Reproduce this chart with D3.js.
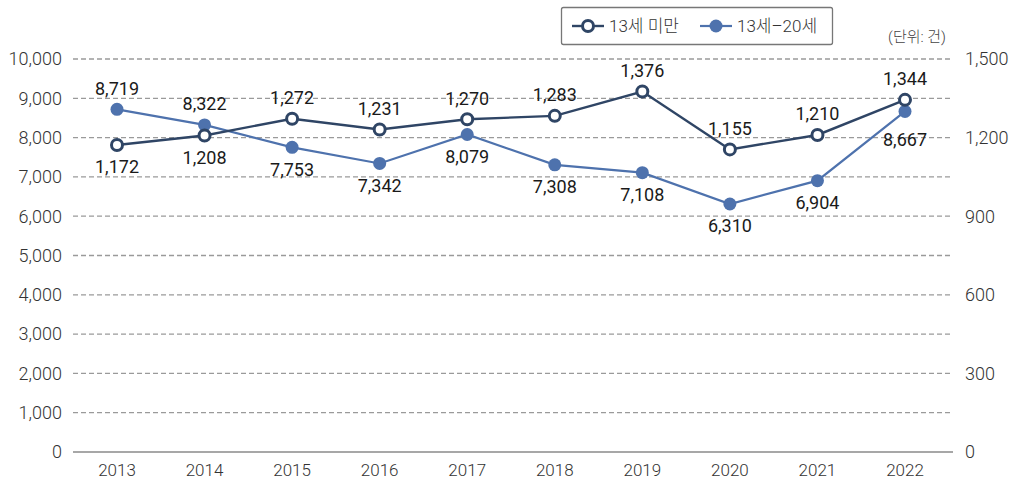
<!DOCTYPE html>
<html>
<head>
<meta charset="utf-8">
<script src="https://cdn.jsdelivr.net/npm/d3@7"></script>
<style>
  body { margin: 0; background: #fff; }
  text { font-family: Roboto, "Noto Sans CJK KR", sans-serif; }
</style>
</head>
<body>
<svg id="chart" width="1015" height="483"></svg>
<script>
// chart data
var years = ["2013", "2014", "2015", "2016", "2017", "2018", "2019", "2020", "2021", "2022"];
var under13 = [1172, 1208, 1272, 1231, 1270, 1283, 1376, 1155, 1210, 1344];
var age13to20 = [8719, 8322, 7753, 7342, 8079, 7308, 7108, 6310, 6904, 8667];
var leftTicks = [0, 1000, 2000, 3000, 4000, 5000, 6000, 7000, 8000, 9000, 10000];
var rightTicks = [0, 300, 600, 900, 1200, 1500];
var seriesNames = ["13세 미만", "13세–20세"];

var dark = "#2f4565", blue = "#4e72ad";
var svg = d3.select("#chart");
var margin = {left: 73, right: 62, top: 59, bottom: 31};
var width = 1015, height = 483;

var x = d3.scalePoint().domain(years)
    .range([117, 905]);
var yL = d3.scaleLinear().domain([0, 10000]).range([height - margin.bottom, margin.top]);
var yR = d3.scaleLinear().domain([0, 1500]).range([height - margin.bottom, margin.top]);
var fmt = d3.format(",");

// gridlines
svg.append("g").selectAll("line")
    .data(leftTicks.filter(function(d) { return d > 0; }))
    .join("line")
    .attr("x1", margin.left).attr("x2", width - margin.right)
    .attr("y1", function(d) { return yL(d); }).attr("y2", function(d) { return yL(d); })
    .attr("stroke", "#9a9a9a").attr("stroke-width", 1.3)
    .attr("stroke-dasharray", "5,3");

svg.append("line")
    .attr("x1", margin.left).attr("x2", width - margin.right)
    .attr("y1", yL(0)).attr("y2", yL(0))
    .attr("stroke", "#8a8a8a").attr("stroke-width", 1.5);

// left axis labels
svg.append("g").selectAll("text").data(leftTicks).join("text")
    .attr("x", 62).attr("y", function(d) { return yL(d); })
    .attr("dy", "0.35em").attr("text-anchor", "end")
    .attr("font-size", 18).attr("font-weight", 300).attr("fill", "#333")
    .text(function(d) { return fmt(d); });

// right axis labels
svg.append("g").selectAll("text").data(rightTicks).join("text")
    .attr("x", 965).attr("y", function(d) { return yR(d); })
    .attr("dy", "0.35em").attr("text-anchor", "start")
    .attr("font-size", 18).attr("font-weight", 300).attr("fill", "#333")
    .text(function(d) { return fmt(d); });

// x labels
svg.append("g").selectAll("text").data(years).join("text")
    .attr("x", function(d) { return x(d); }).attr("y", 470)
    .attr("dy", "0.35em").attr("text-anchor", "middle")
    .attr("font-size", 17).attr("font-weight", 300).attr("fill", "#333")
    .text(function(d) { return d; });

// 13세-20세 line (left axis)
var lineL = d3.line().x(function(d, i) { return x(years[i]); }).y(function(d) { return yL(d); });
svg.append("path").datum(age13to20)
    .attr("d", lineL).attr("fill", "none")
    .attr("stroke", blue).attr("stroke-width", 2.2);

// 13세 미만 line (right axis)
var lineR = d3.line().x(function(d, i) { return x(years[i]); }).y(function(d) { return yR(d); });
svg.append("path").datum(under13)
    .attr("d", lineR).attr("fill", "none")
    .attr("stroke", dark).attr("stroke-width", 2.4);

svg.append("g").selectAll("circle").data(age13to20).join("circle")
    .attr("cx", function(d, i) { return x(years[i]); })
    .attr("cy", function(d) { return yL(d); })
    .attr("r", 6.5).attr("fill", blue);

svg.append("g").selectAll("circle").data(under13).join("circle")
    .attr("cx", function(d, i) { return x(years[i]); })
    .attr("cy", function(d) { return yR(d); })
    .attr("r", 5.5).attr("fill", "#fff")
    .attr("stroke", dark).attr("stroke-width", 3);

// data labels: which ones sit above
var darkAbove = [false, false, true, true, true, true, true, true, true, true];
var blueAbove = [true, true, false, false, false, false, false, false, false, false];

svg.append("g").selectAll("text").data(under13).join("text")
    .attr("x", function(d, i) { return x(years[i]); })
    .attr("y", function(d, i) { return yR(d) + (darkAbove[i] ? -21 : 22); })
    .attr("dy", "0.35em").attr("text-anchor", "middle")
    .attr("font-size", 18).attr("fill", "#1a1a1a")
    .text(function(d) { return fmt(d); });

svg.append("g").selectAll("text").data(age13to20).join("text")
    .attr("x", function(d, i) { return x(years[i]); })
    .attr("y", function(d, i) {
        if (i === 9) return yL(d) + 28;
        return yL(d) + (blueAbove[i] ? -21 : 22);
    })
    .attr("dy", "0.35em").attr("text-anchor", "middle")
    .attr("font-size", 18).attr("fill", "#1a1a1a")
    .text(function(d) { return fmt(d); });

// legend
var lg = svg.append("g");
lg.append("rect").attr("x", 561.5).attr("y", 7.5).attr("width", 271).attr("height", 37)
    .attr("rx", 2).attr("fill", "#fff").attr("stroke", "#777").attr("stroke-width", 1.3);
lg.append("line").attr("x1", 572).attr("x2", 604).attr("y1", 26).attr("y2", 26)
    .attr("stroke", dark).attr("stroke-width", 2.4);
lg.append("circle").attr("cx", 588).attr("cy", 26).attr("r", 5.5)
    .attr("fill", "#fff").attr("stroke", dark).attr("stroke-width", 3);
lg.append("text").attr("x", 609).attr("y", 26).attr("dy", "0.35em")
    .attr("font-size", 17).attr("font-weight", 300).attr("fill", "#333").text(seriesNames[0]);
lg.append("line").attr("x1", 700).attr("x2", 732).attr("y1", 26).attr("y2", 26)
    .attr("stroke", blue).attr("stroke-width", 2.2);
lg.append("circle").attr("cx", 716).attr("cy", 26).attr("r", 6.5).attr("fill", blue);
lg.append("text").attr("x", 737).attr("y", 26).attr("dy", "0.35em")
    .attr("font-size", 17).attr("font-weight", 300).attr("fill", "#333").text(seriesNames[1]);

svg.append("text").attr("x", 946).attr("y", 37).attr("dy", "0.35em")
    .attr("text-anchor", "end").attr("font-size", 15).attr("font-weight", 300).attr("fill", "#444")
    .text("(단위: 건)");
</script>
</body>
</html>
